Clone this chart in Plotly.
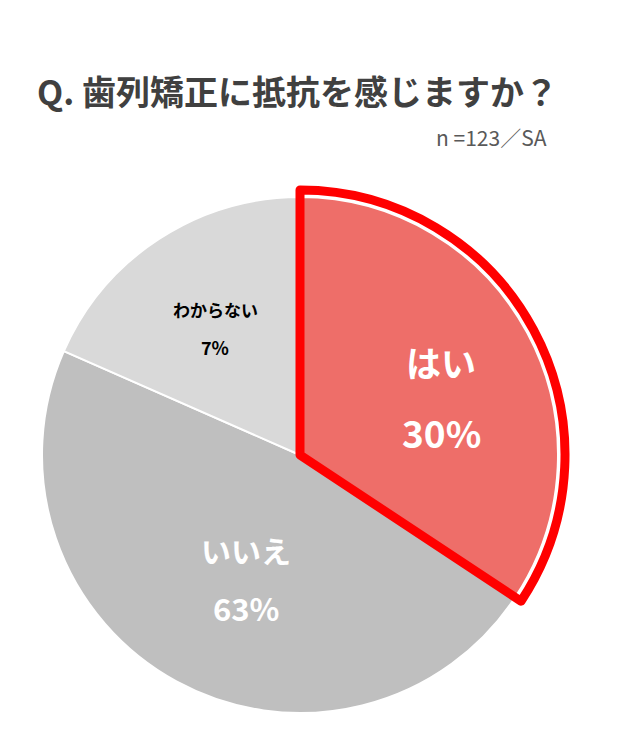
import plotly.graph_objects as go

W, H = 635, 747

# Data
categories = ["はい", "いいえ", "わからない"]
pct_labels = ["30%", "63%", "7%"]
# slice shares as drawn in the reference picture (angles)
slice_values = [34.3, 47.3, 18.4]
colors = ["#EE6E69", "#BFBFBF", "#D9D9D9"]
title_text = "Q. 歯列矯正に抵抗を感じますか？"
subtitle_text = "n =123／SA"

FONT = "Noto Sans CJK JP"

cx, cy, r = 300, 455, 258


def dom(radius):
    return dict(x=[(cx - radius) / W, (cx + radius) / W],
                y=[(H - cy - radius) / H, (H - cy + radius) / H])


fig = go.Figure()
fig.add_trace(go.Pie(
    labels=categories, values=slice_values, sort=False, direction="clockwise",
    rotation=0, domain=dom(r),
    marker=dict(colors=colors, line=dict(color="white", width=2)),
    textinfo="none", hoverinfo="label", showlegend=False,
))
# red outline of the highlighted slice
fig.add_trace(go.Pie(
    labels=categories, values=slice_values, sort=False, direction="clockwise",
    rotation=0, domain=dom(r + 7),
    marker=dict(colors=["rgba(0,0,0,0)"] * 3,
                line=dict(color=["#FF0000", "rgba(0,0,0,0)", "rgba(0,0,0,0)"],
                          width=[9, 0, 0])),
    textinfo="none", hoverinfo="skip", showlegend=False,
))


def px(x, y):
    return x / W, 1 - y / H


annotations = []
# title
tx, ty = px(35, 91)
annotations.append(dict(x=tx, y=ty, xref="paper", yref="paper", xanchor="left", yanchor="middle",
                        text="<b>" + title_text + "</b>", showarrow=False,
                        font=dict(family=FONT, size=34, color="#404040")))
sx, sy = px(549, 137)
annotations.append(dict(x=sx, y=sy, xref="paper", yref="paper", xanchor="right", yanchor="middle",
                        text=subtitle_text, showarrow=False,
                        font=dict(family=FONT, size=21, color="#595959")))

label_specs = [
    # (name y, pct y, x, size name, size pct, color)
    (361, 432, 441, 35, 37, "white"),
    (550, 607, 246, 30, 31, "white"),
    (309, 347, 215, 17, 18, "black"),
]
for i, (yn, yp, x, sn, sp, col) in enumerate(label_specs):
    ax, ay = px(x, yn)
    annotations.append(dict(x=ax, y=ay, xref="paper", yref="paper", xanchor="center", yanchor="middle",
                            text="<b>" + categories[i] + "</b>", showarrow=False,
                            font=dict(family=FONT, size=sn, color=col)))
    ax, ay = px(x, yp)
    annotations.append(dict(x=ax, y=ay, xref="paper", yref="paper", xanchor="center", yanchor="middle",
                            text="<b>" + pct_labels[i] + "</b>", showarrow=False,
                            font=dict(family=FONT, size=sp, color=col)))

fig.update_layout(
    width=W, height=H, margin=dict(l=0, r=0, t=0, b=0),
    paper_bgcolor="white", plot_bgcolor="white",
    annotations=annotations, showlegend=False,
)

fig.write_html("out.html", config={"displayModeBar": False})

# remove the default page margin so the figure sits at the window's top-left corner
with open("out.html", encoding="utf-8") as f:
    html = f.read()
html = html.replace("<body>", '<body style="margin:0;overflow:hidden">', 1)
with open("out.html", "w", encoding="utf-8") as f:
    f.write(html)
